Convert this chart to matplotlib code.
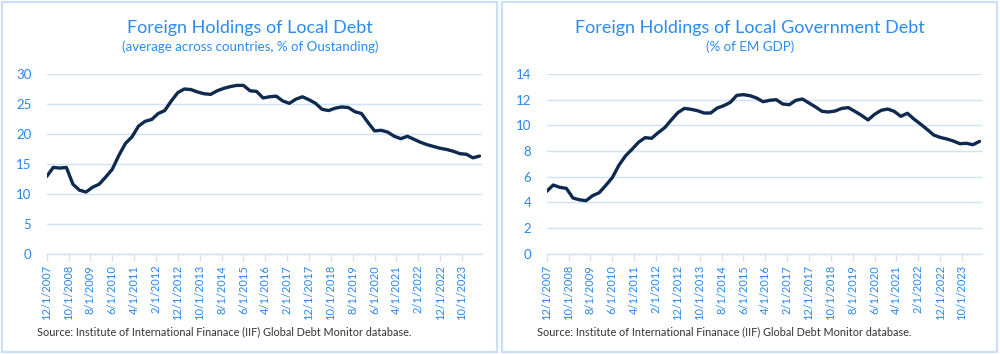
import matplotlib
matplotlib.use("Agg")
import matplotlib.pyplot as plt
from matplotlib.patches import Rectangle

plt.rcParams['font.family'] = ['Lato', 'DejaVu Sans']

# Quarterly observations, 12/2007 .. 6/2024
local_debt = [12.9, 14.4, 14.3, 14.4, 11.6, 10.6, 10.3, 11.1, 11.6, 12.8,
              14.1, 16.4, 18.4, 19.5, 21.3, 22.1, 22.4, 23.4, 23.9, 25.5,
              26.9, 27.5, 27.4, 27.0, 26.7, 26.6, 27.2, 27.6, 27.9, 28.1,
              28.1, 27.2, 27.1, 26.0, 26.2, 26.3, 25.5, 25.1, 25.8, 26.2,
              25.7, 25.1, 24.1, 23.9, 24.3, 24.5, 24.4, 23.7, 23.4, 21.9,
              20.5, 20.6, 20.3, 19.6, 19.2, 19.6, 19.1, 18.6, 18.2, 17.9,
              17.6, 17.4, 17.1, 16.7, 16.6, 16.0, 16.3]
gov_debt_gdp = [4.86, 5.35, 5.17, 5.09, 4.34, 4.20, 4.13, 4.52, 4.75, 5.32,
                5.92, 6.88, 7.61, 8.13, 8.68, 9.04, 8.99, 9.43, 9.82, 10.42,
                10.99, 11.32, 11.25, 11.14, 10.96, 10.96, 11.35, 11.53, 11.79, 12.34,
                12.39, 12.31, 12.13, 11.84, 11.95, 12.00, 11.66, 11.61, 11.95, 12.05,
                11.74, 11.43, 11.09, 11.04, 11.12, 11.32, 11.38, 11.09, 10.78, 10.42,
                10.86, 11.17, 11.27, 11.09, 10.70, 10.94, 10.49, 10.10, 9.69, 9.25,
                9.06, 8.94, 8.78, 8.57, 8.60, 8.49, 8.75]
months = [3 * i for i in range(len(local_debt))]  # months since 12/1/2007

tick_labels = ["12/1/2007", "10/1/2008", "8/1/2009", "6/1/2010", "4/1/2011",
               "2/1/2012", "12/1/2012", "10/1/2013", "8/1/2014", "6/1/2015",
               "4/1/2016", "2/1/2017", "12/1/2017", "10/1/2018", "8/1/2019",
               "6/1/2020", "4/1/2021", "2/1/2022", "12/1/2022", "10/1/2023"]
tick_pos = [10 * i for i in range(len(tick_labels))]

titles = ["Foreign Holdings of Local Debt", "Foreign Holdings of Local Government Debt"]
subtitles = ["(average across countries, % of Oustanding)", "(% of EM GDP)"]
source = "Source: Institute of International Finanace (IIF) Global Debt Monitor database."

W, H = 1000, 354
fig = plt.figure(figsize=(W / 100, H / 100), dpi=100)

TITLE_C = "#2a8cf0"
TICK_C = "#2a86ea"
GRID_C = "#cfe2f7"
BORDER_C = "#c9e0fa"
LINE_C = "#0e2a4e"

panels = [
    dict(x0=2, x1=497, data=local_debt, ylim=(0, 30), yt=[0, 5, 10, 15, 20, 25, 30]),
    dict(x0=502, x1=997, data=gov_debt_gdp, ylim=(0, 14), yt=[0, 2, 4, 6, 8, 10, 12, 14]),
]

for k, p in enumerate(panels):
    # panel border
    fig.add_artist(Rectangle((p['x0'] / W, 1 - 352 / H), (p['x1'] - p['x0']) / W, 350 / H,
                             transform=fig.transFigure, fill=False, edgecolor=BORDER_C,
                             linewidth=1.6))
    off = 500 * k
    left = (46.7 + off) / W
    ax = fig.add_axes([left, (H - 253.7) / H, 435 / W, (253.7 - 74) / H])
    ax.plot(months, p['data'], color=LINE_C, linewidth=2.4, solid_joinstyle='round',
            solid_capstyle='round', zorder=3)
    ax.set_xlim(0, 199)
    ax.set_ylim(*p['ylim'])
    ax.set_yticks(p['yt'])
    ax.set_xticks(tick_pos)
    ax.set_xticklabels(tick_labels, rotation=90, color=TICK_C, fontsize=8)
    ax.tick_params(axis='x', length=5, color=GRID_C, width=1, pad=3)
    ax.tick_params(axis='y', length=0, colors=TICK_C, labelsize=9.5, pad=11)
    ax.grid(axis='y', color=GRID_C, linewidth=1)
    ax.set_axisbelow(True)
    for s in ['top', 'right', 'left']:
        ax.spines[s].set_visible(False)
    ax.spines['bottom'].set_color(GRID_C)
    ax.spines['bottom'].set_linewidth(1)
    cx = (250 + off) / W
    fig.text(cx, 1 - 27.5 / H, titles[k], ha='center', va='center', fontsize=13, color=TITLE_C)
    fig.text(cx, 1 - 47 / H, subtitles[k], ha='center', va='center', fontsize=9.6, color=TITLE_C)
    fig.text((37 + off) / W, 1 - 332 / H, source, ha='left', va='center', fontsize=7.8, color="#333333")

fig.savefig("out.png", dpi=100)
